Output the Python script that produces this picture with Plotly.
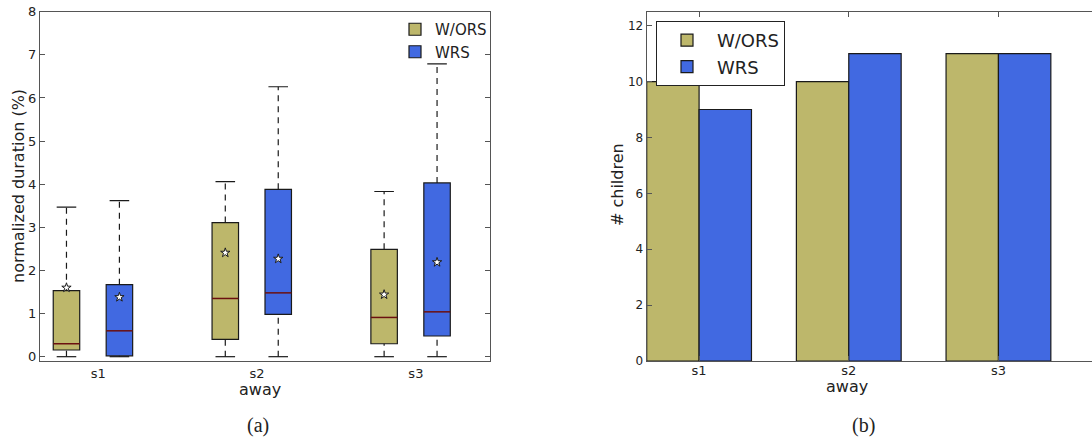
import plotly.graph_objects as go

# ---------------- data ----------------
groups = ["s1", "s2", "s3"]
series = ["W/ORS", "WRS"]

# box plot statistics (normalized duration %), per group
wors_low = [0.0, 0.0, 0.0]
wors_q1 = [0.155, 0.40, 0.30]
wors_med = [0.30, 1.35, 0.91]
wors_q3 = [1.53, 3.11, 2.49]
wors_high = [3.47, 4.06, 3.83]
wors_mean = [1.60, 2.41, 1.44]

wrs_low = [0.0, 0.0, 0.0]
wrs_q1 = [0.02, 0.98, 0.48]
wrs_med = [0.60, 1.48, 1.04]
wrs_q3 = [1.67, 3.88, 4.03]
wrs_high = [3.62, 6.26, 6.79]
wrs_mean = [1.38, 2.27, 2.19]

# children counts
wors_children = [10, 10, 11]
wrs_children = [9, 11, 11]

C_WORS = "#BDB76B"
C_WRS = "#4169E1"
EDGE = "#1a1a1a"
MEDIAN = "#6b1010"
FONT = "DejaVu Sans"

W, H = 1092, 440


def fx(px):
    return px / W


def fy(py):
    return 1 - py / H


fig = go.Figure()

# ---------------- left: box plots ----------------
box_w = 0.5
cap_w = 0.37
stats = [
    (series[0], C_WORS, wors_low, wors_q1, wors_med, wors_q3, wors_high, wors_mean, 1),
    (series[1], C_WRS, wrs_low, wrs_q1, wrs_med, wrs_q3, wrs_high, wrs_mean, 2),
]
for name, col, lo, q1, med, q3, hi, mean, off in stats:
    pos = [3 * i + off for i in range(len(groups))]
    fig.add_trace(go.Bar(
        x=pos, y=[b - a for a, b in zip(q1, q3)], base=q1, width=box_w,
        marker=dict(color=col, line=dict(color=EDGE, width=1.2)),
        name=name, legend="legend", xaxis="x", yaxis="y", hoverinfo="skip"))
    # medians
    mx, my = [], []
    for p, m in zip(pos, med):
        mx += [p - box_w / 2, p + box_w / 2, None]
        my += [m, m, None]
    fig.add_trace(go.Scatter(x=mx, y=my, mode="lines", line=dict(color=MEDIAN, width=1.5),
                             showlegend=False, xaxis="x", yaxis="y", hoverinfo="skip"))
    # whiskers (dashed)
    wx, wy = [], []
    for p, a, b, c, d in zip(pos, lo, q1, q3, hi):
        wx += [p, p, None, p, p, None]
        wy += [a, b, None, c, d, None]
    fig.add_trace(go.Scatter(x=wx, y=wy, mode="lines", line=dict(color=EDGE, width=1.2, dash="6px,5px"),
                             showlegend=False, xaxis="x", yaxis="y", hoverinfo="skip"))
    # caps
    cx, cy = [], []
    for p, a, d in zip(pos, lo, hi):
        cx += [p - cap_w / 2, p + cap_w / 2, None, p - cap_w / 2, p + cap_w / 2, None]
        cy += [a, a, None, d, d, None]
    fig.add_trace(go.Scatter(x=cx, y=cy, mode="lines", line=dict(color=EDGE, width=1.2),
                             showlegend=False, xaxis="x", yaxis="y", hoverinfo="skip"))
    # means
    fig.add_trace(go.Scatter(x=pos, y=mean, mode="markers",
                             marker=dict(symbol="star", size=7, color="white",
                                         line=dict(color=EDGE, width=1)),
                             showlegend=False, xaxis="x", yaxis="y", hoverinfo="skip"))

# ---------------- right: bar chart ----------------
bw = 0.35
fig.add_trace(go.Bar(x=[i + bw / 2 for i in range(len(groups))], y=wors_children, width=bw,
                     marker=dict(color=C_WORS, line=dict(color=EDGE, width=1.2)),
                     name=series[0], legend="legend2", xaxis="x2", yaxis="y2", hoverinfo="skip"))
fig.add_trace(go.Bar(x=[i + 3 * bw / 2 for i in range(len(groups))], y=wrs_children, width=bw,
                     marker=dict(color=C_WRS, line=dict(color=EDGE, width=1.2)),
                     name=series[1], legend="legend2", xaxis="x2", yaxis="y2", hoverinfo="skip"))

axcol = "#555555"
txt = "#222222"
ann = dict(xref="paper", yref="paper", showarrow=False, xanchor="center", yanchor="middle")
fig.update_layout(
    width=W, height=H,
    margin=dict(l=0, r=0, t=0, b=0, autoexpand=False),
    paper_bgcolor="white", plot_bgcolor="white",
    font=dict(family=FONT, color=txt),
    barmode="overlay",
    xaxis=dict(domain=[fx(40), fx(490)], range=[0.5, 9.0], automargin=False,
               tickvals=[1.6, 4.6, 7.6], ticktext=groups, ticks="", showgrid=False,
               zeroline=False, showline=True, linecolor=axcol, linewidth=1.2, mirror=True,
               tickfont=dict(size=13), ticklabelstandoff=0, anchor="y"),
    yaxis=dict(domain=[fy(361), fy(11.7)], range=[-0.1, 8.0], automargin=False,
               tickvals=list(range(0, 9)), ticks="inside", ticklen=5, tickcolor=axcol,
               showgrid=False, zeroline=False, showline=True, linecolor=axcol, linewidth=1.2,
               mirror="ticks", tickfont=dict(size=13), anchor="x"),
    xaxis2=dict(domain=[fx(646.7), 1.0], range=[0, 2.975], automargin=False,
                tickvals=[i + bw for i in range(len(groups))], ticktext=groups,
                ticks="inside", ticklen=5, tickcolor=axcol, showgrid=False, zeroline=False,
                showline=True, linecolor=axcol, linewidth=1.2, mirror="ticks",
                tickfont=dict(size=13), ticklabelstandoff=-3, anchor="y2"),
    yaxis2=dict(domain=[fy(361), fy(11.7)], range=[0, 12.5], automargin=False,
                tickvals=list(range(0, 13, 2)), ticks="inside", ticklen=5, tickcolor=axcol,
                showgrid=False, zeroline=False, showline=True, linecolor=axcol, linewidth=1.2,
                tickfont=dict(size=12), anchor="x2"),
    legend=dict(x=fx(395), y=fy(13), xanchor="left", yanchor="top",
                bgcolor="rgba(0,0,0,0)", borderwidth=0, font=dict(size=15),
                tracegroupgap=0, itemwidth=30),
    legend2=dict(x=fx(656), y=fy(21), xanchor="left", yanchor="top",
                 bgcolor="white", bordercolor=txt, borderwidth=1, font=dict(size=18),
                 tracegroupgap=0, itemwidth=50),
    annotations=[
        dict(text="normalized duration (%)", x=fx(18), y=fy(186), textangle=-90,
             font=dict(size=16), **ann),
        dict(text="away", x=fx(260), y=fy(389), font=dict(size=16), **ann),
        dict(text="# children", x=fx(618), y=fy(185), textangle=-90, font=dict(size=16), **ann),
        dict(text="away", x=fx(847), y=fy(386), font=dict(size=16), **ann),
        dict(text="(a)", x=fx(258), y=fy(425),
             font=dict(family="Liberation Serif", size=20, color=txt), **ann),
        dict(text="(b)", x=fx(863), y=fy(425),
             font=dict(family="Liberation Serif", size=20, color=txt), **ann),
    ],
)

fig.write_html("out.html", config={"displayModeBar": False},
               post_script="document.body.style.margin='0';")
